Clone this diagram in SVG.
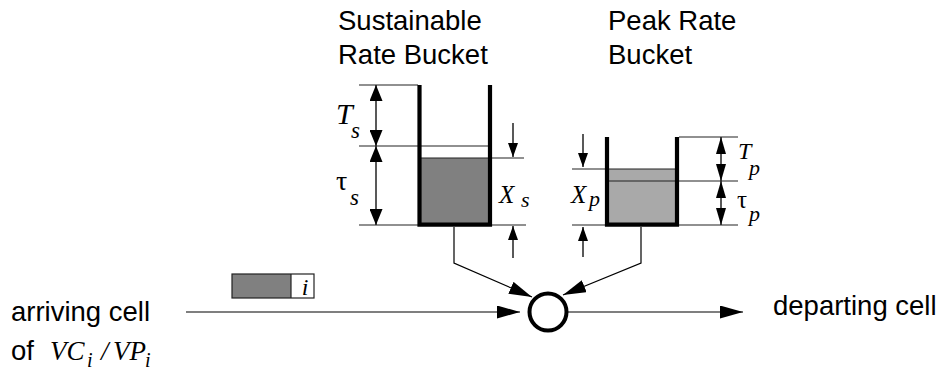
<svg xmlns="http://www.w3.org/2000/svg" width="945" height="375" viewBox="0 0 945 375">
  <style>
    .t { font-family: "Liberation Sans", Arial, sans-serif; font-size: 27.5px; fill: #000; }
    .m { font-family: "Liberation Serif", "Times New Roman", serif; font-style: italic; fill: #000; }
    .g { font-family: "Liberation Serif", "Times New Roman", serif; fill: #000; }
    .thin { stroke: #222; stroke-width: 1.2; fill: none; }
    .wall { stroke: #000; stroke-width: 4.2; fill: none; stroke-linejoin: miter; }
    .dimL { stroke: #222; stroke-width: 1.5; fill: none; marker-start: url(#big); marker-end: url(#big); }
    .dimS { stroke: #222; stroke-width: 1.5; fill: none; marker-start: url(#dia); marker-end: url(#dia); }
    .xarr { stroke: #222; stroke-width: 1.5; fill: none; marker-end: url(#mid); }
    .flow { stroke: #000; stroke-width: 1.2; fill: none; marker-end: url(#flow); }
  </style>
  <defs>
    <marker id="big" viewBox="0 0 16 13" refX="16" refY="6.5" markerWidth="16" markerHeight="13" markerUnits="userSpaceOnUse" orient="auto-start-reverse">
      <path d="M0,0 L16,6.5 L0,13 z" fill="#000"/>
    </marker>
    <marker id="dia" viewBox="0 0 17 10" refX="17" refY="5" markerWidth="17" markerHeight="10" markerUnits="userSpaceOnUse" orient="auto-start-reverse">
      <path d="M0,0 L17,5 L0,10 z" fill="#000"/>
    </marker>
    <marker id="mid" viewBox="0 0 14 10" refX="14" refY="5" markerWidth="14" markerHeight="10" markerUnits="userSpaceOnUse" orient="auto-start-reverse">
      <path d="M0,0 L14,5 L0,10 z" fill="#000"/>
    </marker>
    <marker id="flow" viewBox="0 0 23 13" refX="23" refY="6.5" markerWidth="23" markerHeight="13" markerUnits="userSpaceOnUse" orient="auto">
      <path d="M0,0 L23,6.5 L0,13 z" fill="#000"/>
    </marker>
  </defs>

  <g id="sustainable-bucket">
    <text class="t" x="338" y="30">Sustainable</text>
    <text class="t" x="338" y="64">Rate Bucket</text>
    <rect x="421" y="158" width="68" height="66" fill="#808080"/>
    <path class="thin" d="M421,158 H524 M359,146 H490 M359,85 H418 M359,225 H418 M492,225 H526"/>
    <path class="wall" d="M419.5,85 V224.7 H490 V85"/>
    <line class="dimL" x1="376" y1="85" x2="376" y2="146"/>
    <line class="dimL" x1="376" y1="146" x2="376" y2="225"/>
    <text class="m" x="336" y="124" font-size="30">T</text>
    <text class="m" x="351" y="138" font-size="23">s</text>
    <text class="g" x="336" y="190" font-size="28">τ</text>
    <text class="m" x="350" y="205" font-size="23">s</text>
    <text class="m" x="499" y="203" font-size="25">X</text>
    <text class="m" x="521" y="207" font-size="22">s</text>
    <line class="xarr" x1="513" y1="123" x2="513" y2="157"/>
    <line class="xarr" x1="513" y1="258" x2="513" y2="226"/>
  </g>

  <g id="peak-bucket">
    <text class="t" x="608" y="30">Peak Rate</text>
    <text class="t" x="608" y="64">Bucket</text>
    <rect x="609" y="169" width="66" height="55" fill="#a9a9a9"/>
    <path class="thin" d="M572,169 H676 M609,181 H738 M679,137 H738 M572,225 H605 M679,225 H738"/>
    <path class="wall" d="M607,137 V224.7 H677 V137"/>
    <line class="dimS" x1="721" y1="137" x2="721" y2="181"/>
    <line class="dimS" x1="721" y1="181" x2="721" y2="225"/>
    <text class="m" x="738" y="159" font-size="24">T</text>
    <text class="m" x="749" y="175" font-size="22">p</text>
    <text class="g" x="737" y="208" font-size="25">τ</text>
    <text class="m" x="749" y="221" font-size="22">p</text>
    <text class="m" x="571" y="203" font-size="25">X</text>
    <text class="m" x="589" y="206" font-size="22">p</text>
    <line class="xarr" x1="583" y1="134" x2="583" y2="167"/>
    <line class="xarr" x1="583" y1="257" x2="583" y2="227"/>
  </g>

  <g id="cell">
    <rect x="232" y="274" width="59" height="24" fill="#808080"/>
    <rect x="232" y="274" width="82" height="24" class="thin"/>
    <line class="thin" x1="291" y1="274" x2="291" y2="298"/>
    <text class="m" x="305" y="295" font-size="24" text-anchor="middle">i</text>
  </g>

  <g id="arriving-label">
    <text class="t" x="11" y="321">arriving cell</text>
    <text class="t" x="11" y="360">of</text>
    <text class="m" x="50" y="360" font-size="27">VC</text>
    <text class="m" x="87" y="367" font-size="20">i</text>
    <text class="m" x="101" y="360" font-size="27">/</text>
    <text class="m" x="113" y="360" font-size="27">VP</text>
    <text class="m" x="145" y="367" font-size="20">i</text>
  </g>

  <g id="departing-label">
    <text class="t" x="773" y="315">departing cell</text>
  </g>

  <g id="connectors">
    <path class="flow" d="M186,312 H520"/>
    <path class="flow" d="M568,312 H743"/>
    <path class="flow" d="M454,227 V263 L532,297"/>
    <path class="flow" d="M641,227 V263 L563,295"/>
  </g>

  <g id="merge">
    <circle cx="548" cy="312" r="18.5" fill="#fff" stroke="#000" stroke-width="4"/>
  </g>
</svg>
